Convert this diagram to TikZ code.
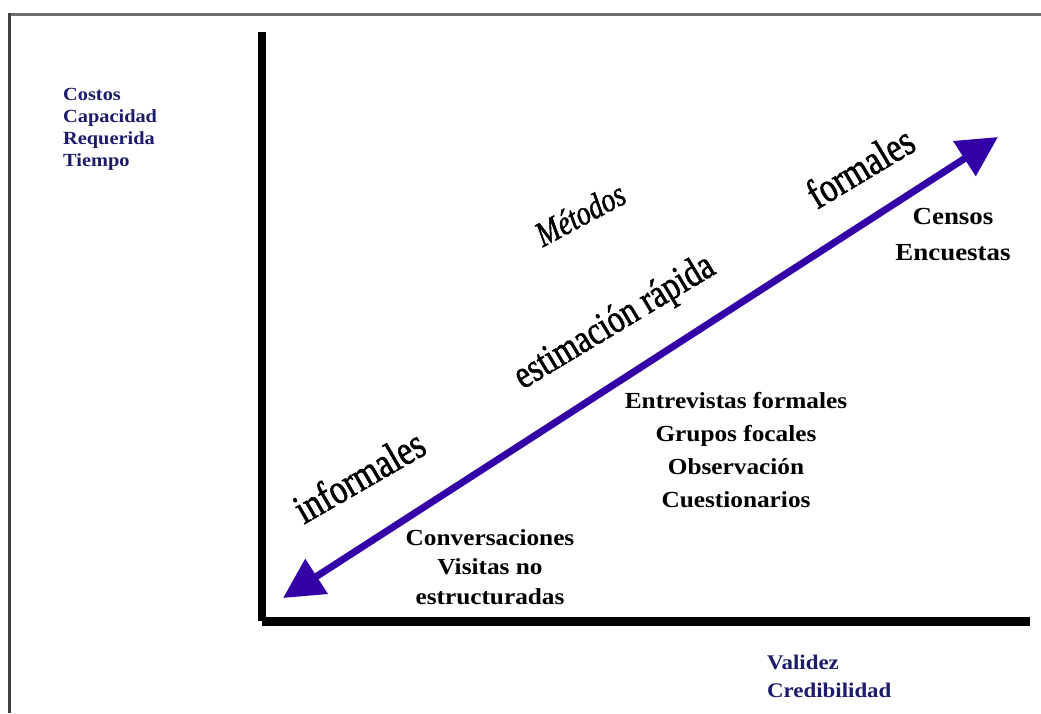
\documentclass[tikz,border=0pt]{standalone}
\usepackage{fontspec}
\usetikzlibrary{arrows.meta}
\newfontfamily\lblfont[FakeStretch=1.1]{Liberation Serif}
\newfontfamily\slimfont[FakeStretch=0.8,FakeBold=1.3]{Liberation Serif}
\definecolor{axisnavy}{RGB}{28,28,107}
\definecolor{arrowviolet}{RGB}{51,0,168}
\definecolor{framegray}{RGB}{110,110,110}
\tikzset{
  axisline/.style={line width=8pt, black},
  axislabel/.style={font=\lblfont\bfseries\fontsize{18.5}{22}\selectfont, text=axisnavy, align=left, anchor=west, inner sep=0pt},
  methodlabel/.style={font=\slimfont\fontsize{42}{42}\selectfont, inner sep=0pt},
  examples/.style={font=\lblfont\bfseries\fontsize{23}{33}\selectfont, align=center, inner sep=0pt},
  rangearrow/.style={line width=7pt, arrowviolet, arrows={Triangle[length=40pt,width=40pt]-Triangle[length=40pt,width=40pt]}}
}
\begin{document}
\begin{tikzpicture}[x=1pt,y=-1pt]
  \useasboundingbox (0,0) rectangle (1041,713);
  \fill[white] (0,0) rectangle (1041,713);

  % page frame
  \draw[framegray, line width=3pt] (8,14) -- (1041,14);
  \draw[black!75, line width=2.5pt] (9.5,13) -- (9.5,713);

  % axes
  \coordinate (ytop) at (261.5,32);
  \coordinate (ybot) at (261.5,621);
  \coordinate (xstart) at (262,621.5);
  \coordinate (xend) at (1030,621.5);
  \draw[axisline, line cap=butt] (ytop) -- (ybot);
  \draw[line width=9pt, black] (xstart) -- (xend);

  % axis labels
  \node[axislabel] (ylabel) at (63,129) {Costos\\Capacidad\\Requerida\\Tiempo};
  \node[axislabel, font=\lblfont\bfseries\fontsize{20.8}{28}\selectfont] (xlabel) at (767,676) {Validez\\Credibilidad};

  % double-headed range arrow
  \coordinate (lowtip) at (283,598);
  \coordinate (hightip) at (998,137);
  \draw[rangearrow] (lowtip) -- (hightip);

  % method names along the arrow
  \node[methodlabel, font=\slimfont\itshape\fontsize{35}{35}\selectfont, rotate=28] (metodos) at (580,214) {Métodos};
  \node[methodlabel, rotate=31] (formales) at (860,167) {formales};
  \node[methodlabel, font=\slimfont\fontsize{40}{40}\selectfont, rotate=31] (rapida) at (615,323) {estimación rápida};
  \node[methodlabel, rotate=30] (informales) at (359,476) {informales};

  % examples for each method
  \node[examples, font=\lblfont\bfseries\fontsize{24.5}{36}\selectfont] (censos) at (953,235) {Censos\\Encuestas};
  \node[examples] (entrevistas) at (736,450) {Entrevistas formales\\Grupos focales\\Observación\\Cuestionarios};
  \node[examples, font=\lblfont\bfseries\fontsize{23}{29.5}\selectfont] (conversaciones) at (490,567) {Conversaciones\\Visitas no\\estructuradas};
\end{tikzpicture}
\end{document}
